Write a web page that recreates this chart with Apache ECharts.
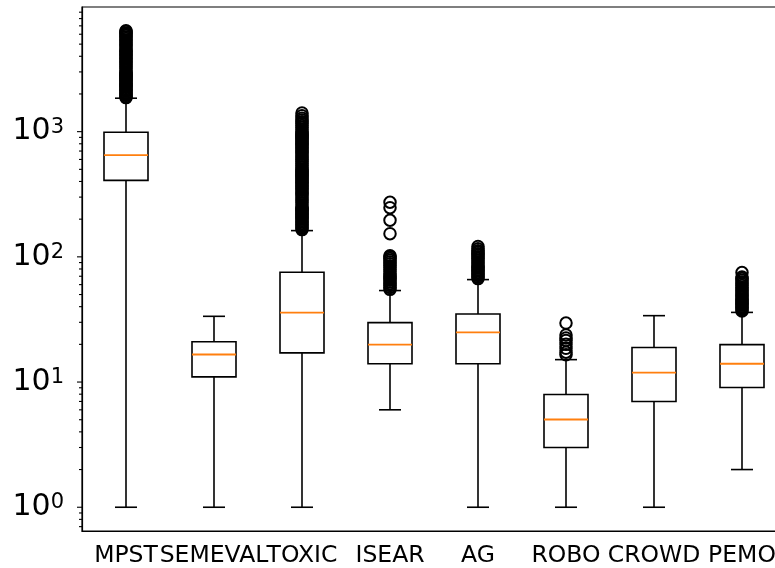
<!DOCTYPE html>
<html><head><meta charset="utf-8">
<script src="https://cdn.jsdelivr.net/npm/echarts@6/dist/echarts.min.js"></script>
<style>html,body{margin:0;padding:0;background:#fff}#c{width:775px;height:568px}</style>
</head><body><div id="c"></div>
<script>
// ---- data ----
const categories = ['MPST', 'SEMEVAL', 'TOXIC', 'ISEAR', 'AG', 'ROBO', 'CROWD', 'PEMO'];
const whiskerLow  = [1,    1,    1,    6,    1,    1,    1,    2];
const q1          = [408,  11,   17.1, 14,   14,   3,    7,    9.05];
const median      = [650,  16.6, 35.8, 19.9, 24.9, 5.02, 11.9, 14];
const q3          = [990,  21,   75.3, 29.8, 35,   7.96, 18.9, 19.9];
const whiskerHigh = [1850, 33.5, 162,  53.8, 65.8, 15.1, 33.9, 36];

const outliersMPST = [1870,1900,1950,2000,2050,2100,2150,2200,2250,2300,2350,2400,2450,2500,2550,2600,2650,2700,2750,2800,2850,2900,2950,3000,3100,3200,3300,3400,3500,3600,3700,3800,3900,4000,4100,4200,4300,4400,4500,4650,4800,4950,5100,5250,5400,5550,5700,5850,6000,6150,6300,6400];
const outliersSEMEVAL = [];
const outliersTOXIC = [165,170,175,180,185,190,195,200,205,210,215,220,225,230,235,240,245,250,260,270,280,290,300,310,320,330,340,350,360,370,380,390,400,410,420,430,440,450,460,470,480,490,500,520,540,560,580,600,620,640,660,680,700,720,740,760,780,800,820,840,860,880,900,920,940,960,980,1000,1040,1080,1120,1160,1200,1240,1280,1340,1410];
const outliersISEAR = [55,57,59,61,63,65,67,69,71,73,76,79,82,85,88,91,94,97,100,102,153,196,247,273];
const outliersAG = [67,69,71,73,75,77,79,81,83,85,88,91,94,97,100,103,106,109,112,116,121];
const outliersROBO = [16.5,17.3,18.6,20,21.5,22.5,23.8,29.6];
const outliersCROWD = [];
const outliersPEMO = [37,38,39,40,41,42,43,44,45,46,47.5,49,50.5,52,53.5,55,57,59,61,63,65,67,69,75];
const outliers = [outliersMPST, outliersSEMEVAL, outliersTOXIC, outliersISEAR, outliersAG, outliersROBO, outliersCROWD, outliersPEMO];

const yMin = 0.646, yMax = 9900;
const majorTicks = [1, 10, 100, 1000];
const minorTicks = [0.7,0.8,0.9, 2,3,4,5,6,7,8,9, 20,30,40,50,60,70,80,90, 200,300,400,500,600,700,800,900, 2000,3000,4000,5000,6000,7000,8000,9000];

// ---- build ----
const boxData = categories.map((c, i) => [i, whiskerLow[i], q1[i], median[i], q3[i], whiskerHigh[i]]);
const outlierData = [];
outliers.forEach((arr, i) => arr.forEach(v => outlierData.push([i, v])));
const tickData = majorTicks.map(v => [0, v, 1]).concat(minorTicks.map(v => [0, v, 0]));

const FONT = 'DejaVu Sans';
const chart = echarts.init(document.getElementById('c'), null, {renderer: 'canvas'});
chart.setOption({
  animation: false,
  backgroundColor: '#fff',
  grid: {left: 82, top: 7, width: 704, height: 524, show: true, borderColor: '#000', borderWidth: 1.2, outerBoundsMode: 'none', containLabel: false},
  xAxis: {
    type: 'category', data: categories, boundaryGap: true,
    axisLine: {lineStyle: {color: '#000', width: 1.2}},
    axisTick: {alignWithLabel: true, length: 5, lineStyle: {color: '#000', width: 1.1}},
    axisLabel: {interval: 0, color: '#000', fontSize: 23.5, fontFamily: FONT, margin: 13},
    splitLine: {show: false}
  },
  yAxis: {
    type: 'log', logBase: 10, min: yMin, max: yMax,
    axisLine: {show: true, lineStyle: {color: '#000', width: 1.2}},
    axisTick: {show: false},
    splitLine: {show: false},
    minorTick: {show: false},
    axisLabel: {
      showMinLabel: false, showMaxLabel: false, margin: 18,
      formatter: function (v) { return '{b|10}{s|' + Math.round(Math.log10(v)) + '}'; },
      rich: {
        b: {fontSize: 30, lineHeight: 30, fontFamily: FONT, color: '#000'},
        s: {fontSize: 21, lineHeight: 21, fontFamily: FONT, color: '#000', verticalAlign: 'top'}
      }
    }
  },
  series: [
    {
      type: 'custom', name: 'yticks', data: tickData, encode: {x: 0, y: 1}, silent: true, clip: false, z: 5,
      renderItem: function (params, api) {
        const y = api.coord([0, api.value(1)])[1];
        const x0 = params.coordSys.x;
        const len = api.value(2) ? 5 : 3;
        return {type: 'line', shape: {x1: x0 - len, y1: y, x2: x0, y2: y}, style: {stroke: '#000', lineWidth: 1.1}};
      }
    },
    {
      type: 'custom', name: 'boxes', data: boxData, encode: {x: 0, y: [1, 2, 3, 4, 5]}, silent: true, z: 3,
      renderItem: function (params, api) {
        const idx = api.value(0);
        const pLow = api.coord([idx, api.value(1)]);
        const pQ1 = api.coord([idx, api.value(2)]);
        const pMed = api.coord([idx, api.value(3)]);
        const pQ3 = api.coord([idx, api.value(4)]);
        const pHigh = api.coord([idx, api.value(5)]);
        const band = params.coordSys.width / categories.length;
        const hw = band * 0.25, cw = band * 0.125;
        const cx = pMed[0];
        const st = {stroke: '#000', lineWidth: 1.6, fill: null};
        return {type: 'group', children: [
          {type: 'line', shape: {x1: cx, y1: pQ1[1], x2: cx, y2: pLow[1]}, style: st},
          {type: 'line', shape: {x1: cx, y1: pQ3[1], x2: cx, y2: pHigh[1]}, style: st},
          {type: 'line', shape: {x1: cx - cw, y1: pLow[1], x2: cx + cw, y2: pLow[1]}, style: st},
          {type: 'line', shape: {x1: cx - cw, y1: pHigh[1], x2: cx + cw, y2: pHigh[1]}, style: st},
          {type: 'rect', shape: {x: cx - hw, y: pQ3[1], width: 2 * hw, height: pQ1[1] - pQ3[1]}, style: {stroke: '#000', lineWidth: 1.6, fill: 'none'}},
          {type: 'line', shape: {x1: cx - hw, y1: pMed[1], x2: cx + hw, y2: pMed[1]}, style: {stroke: '#ff7f0e', lineWidth: 1.8}}
        ]};
      }
    },
    {
      type: 'scatter', name: 'outliers', data: outlierData, symbol: 'circle', symbolSize: 11.5, z: 4, silent: true,
      itemStyle: {color: 'rgba(0,0,0,0)', borderColor: '#000', borderWidth: 2, opacity: 1},
      emphasis: {disabled: true}
    }
  ]
});
</script>
</body></html>
